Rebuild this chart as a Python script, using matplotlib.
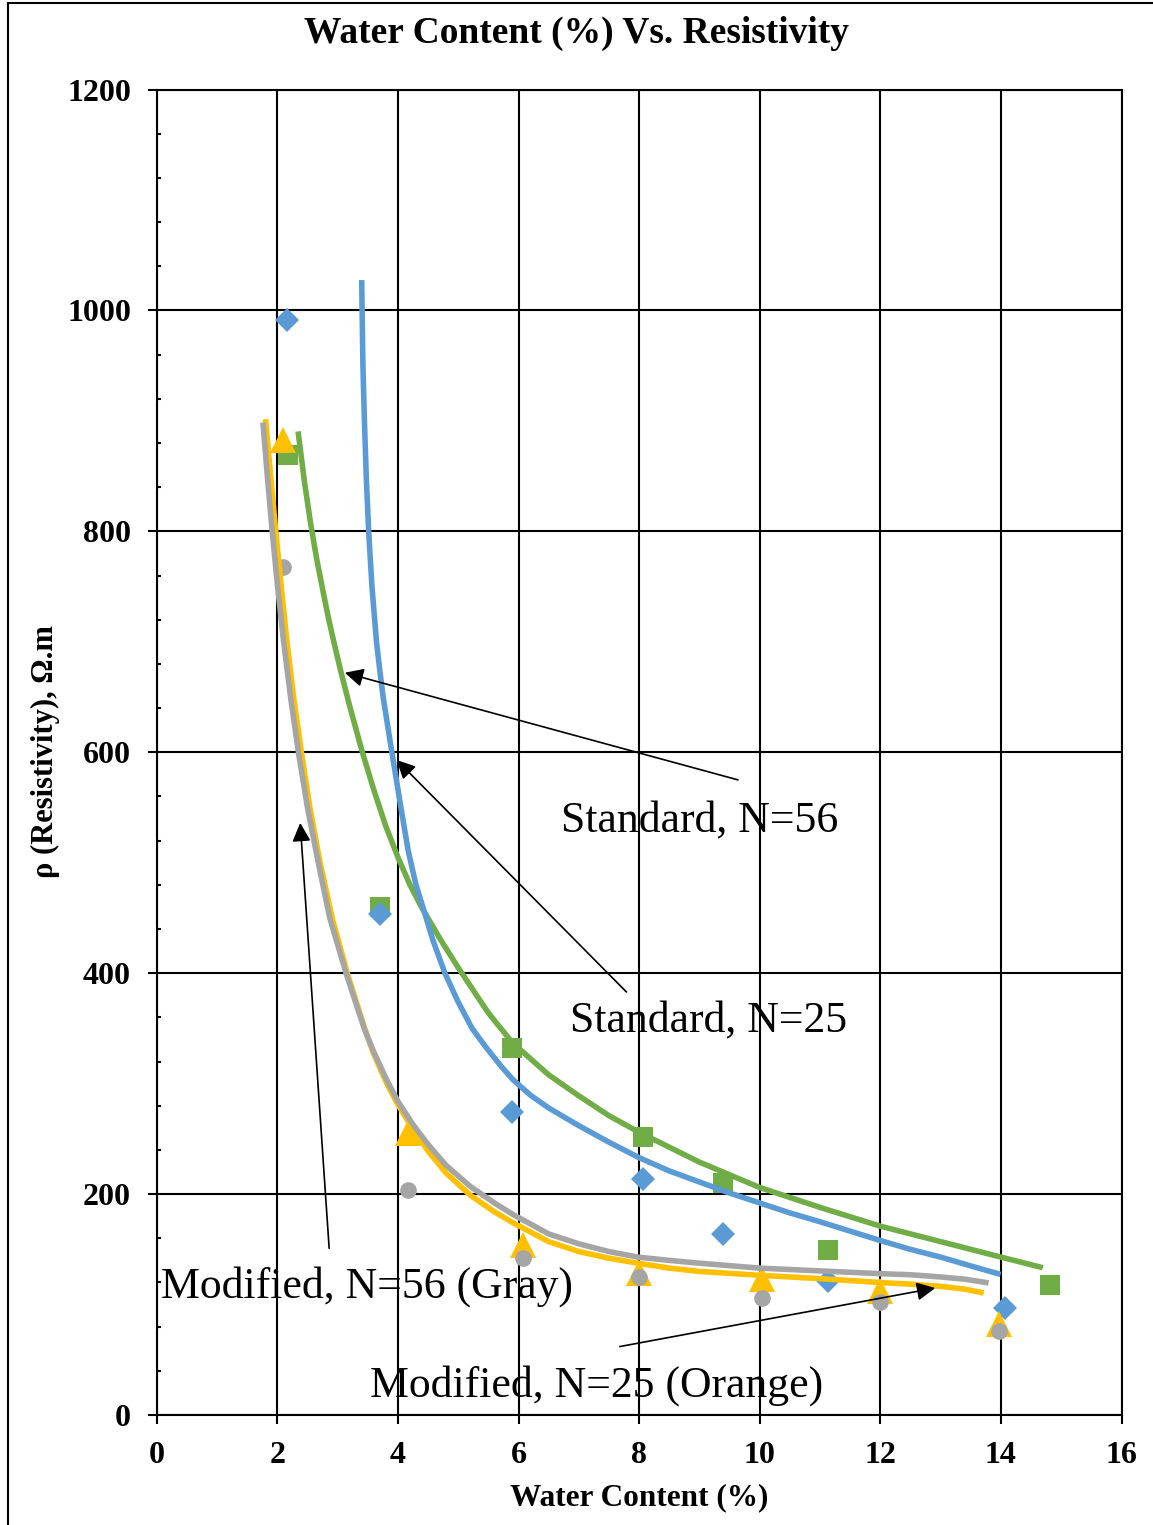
import matplotlib
matplotlib.use("Agg")
import matplotlib.pyplot as plt
from matplotlib.patches import Rectangle

plt.rcParams["font.family"] = ["Liberation Serif", "DejaVu Serif"]

# Measured points
wc_std = [2.16, 3.70, 5.89, 8.07, 9.39, 11.14, 14.07]
rho_std56 = [991, 454, 274, 214, 164, 121, 97]
wc_std25 = [2.17, 3.70, 5.89, 8.07, 9.39, 11.14, 14.81]
rho_std25 = [869, 460, 332, 252, 210, 149, 118]
wc_mod = [2.10, 4.17, 6.08, 7.99, 10.03, 11.99, 13.97]
rho_mod25 = [883, 255, 154, 129, 123, 112, 82]
rho_mod56 = [768, 204, 142, 125, 106, 102, 76]

# Trend lines (blue = Standard N=56 fit, green = Standard N=25 fit, etc.)
trend_std56_x = [3.40, 3.42, 3.445, 3.475, 3.515, 3.57, 3.645, 3.70, 3.755, 3.90, 4.05,
                 4.17, 4.30, 4.43, 4.58, 4.78, 4.99, 5.23, 5.46, 5.70, 5.91, 6.2, 6.5,
                 7.0, 7.5, 8.0, 8.5, 9.0, 9.5, 10.0, 10.5, 11.0, 11.5, 12.0, 12.5,
                 13.0, 13.5, 13.95]
trend_std56_y = [1025, 950, 900, 850, 800, 750, 700, 674, 650, 600, 550,
                 511, 480, 457, 430, 400, 375, 350, 333, 316.5, 303.5, 289.5, 278,
                 262, 247, 233, 221, 211, 201, 192, 183, 175, 166.5, 158, 150,
                 143, 135, 128]
trend_std25_x = [2.35, 2.45, 2.55, 2.65, 2.75, 2.85, 2.95, 3.05, 3.2, 3.4, 3.6, 3.8,
                 4.0, 4.2, 4.4, 4.7, 5.0, 5.5, 5.9, 6.5, 7.0, 7.5, 8.0, 9.0, 10.0,
                 11.0, 12.0, 13.0, 14.0, 14.65]
trend_std25_y = [888, 845, 808, 776, 748, 721, 697, 674, 642, 602, 566, 533,
                 505, 480, 459, 431, 405, 364, 337, 308, 289, 271, 256, 229, 206,
                 188, 171, 157, 143, 134]
trend_mod56_x = [1.765, 1.835, 1.915, 2.005, 2.105, 2.22, 2.35, 2.50, 2.68, 2.87, 3.14,
                 3.44, 3.59, 3.8, 4.0, 4.25, 4.5, 4.8, 5.2, 5.6, 5.91, 6.5, 7.0, 7.5,
                 7.98, 8.5, 9.0, 10.0, 11.0, 12.0, 12.5, 13.0, 13.4, 13.75]
trend_mod56_y = [896, 850, 800, 750, 700, 650, 600, 550, 500, 450, 400,
                 350, 330, 305, 284, 263, 245, 226, 207, 192, 181.5, 164, 155, 148,
                 143, 140, 137.5, 133, 130.5, 128, 127, 125, 123, 120]
trend_mod25_x = [1.81, 1.89, 1.975, 2.065, 2.16, 2.27, 2.40, 2.54, 2.71, 2.91, 3.16,
                 3.45, 3.59, 3.8, 4.0, 4.25, 4.5, 4.8, 5.2, 5.6, 5.91, 6.5, 7.0, 7.5,
                 7.98, 8.5, 9.0, 10.0, 11.0, 12.0, 12.5, 13.0, 13.4, 13.67]
trend_mod25_y = [899, 850, 800, 750, 700, 650, 600, 550, 500, 450, 400,
                 350, 328, 302, 281, 259, 239, 219, 199, 184, 174, 157, 148, 142,
                 137.5, 133, 130, 126.5, 123.5, 120, 118.5, 116.5, 114, 111]

blue = "#5B9BD5"
green = "#70AD47"
orange = "#FFC000"
gray = "#A5A5A5"

fig = plt.figure(figsize=(11.53, 15.25), dpi=100)
ax = fig.add_axes([0.1359, 0.0721, 0.8368, 0.8692])

ax.plot(wc_std25, rho_std25, "s", color=green, ms=14.5, mew=0, zorder=3)
ax.plot(wc_std, rho_std56, "D", color=blue, ms=12.5, mew=0, zorder=3.1)
ax.plot(wc_mod, rho_mod25, "^", color=orange, ms=19, mew=0, zorder=3.2)
ax.plot(wc_mod, rho_mod56, "o", color=gray, ms=12, mew=0, zorder=3.3)

lw = 4.0
ax.plot(trend_std25_x, trend_std25_y, color=green, lw=lw, zorder=4, solid_joinstyle="round")
ax.plot(trend_std56_x, trend_std56_y, color=blue, lw=lw, zorder=4.1, solid_joinstyle="round")
ax.plot(trend_mod25_x, trend_mod25_y, color=orange, lw=lw, zorder=4.2, solid_joinstyle="round")
ax.plot(trend_mod56_x, trend_mod56_y, color=gray, lw=lw, zorder=4.3, solid_joinstyle="round")

ax.set_xlim(0, 16)
ax.set_ylim(0, 1200)
ax.set_xticks(range(0, 17, 2))
ax.set_yticks(range(0, 1201, 200))
ax.set_yticks(range(0, 1201, 40), minor=True)
ax.grid(True, which="major", color="black", lw=1.5, zorder=1)
for s in ax.spines.values():
    s.set_linewidth(1.5)
ax.tick_params(which="major", direction="out", length=6.5, width=1.5, pad=12,
               labelsize=23)
ax.tick_params(which="minor", axis="y", direction="in", length=3, width=1.5)
for lab in ax.get_xticklabels() + ax.get_yticklabels():
    lab.set_fontweight("bold")

fig.text(0.5, 0.978, "Water Content (%) Vs. Resistivity", ha="center", va="center",
         fontsize=27, fontweight="bold")
fig.text(0.554, 0.018, "Water Content (%)", ha="center", va="center",
         fontsize=22.5, fontweight="bold")
fig.text(0.039, 0.507, "ρ (Resistivity), Ω.m", ha="center", va="center",
         rotation=90, fontsize=22, fontweight="bold")

# Curve labels and pointers
labels = ["Standard, N=56", "Standard, N=25", "Modified, N=56 (Gray)", "Modified, N=25 (Orange)"]
label_xy = [(9.01, 538), (9.15, 357), (3.49, 116), (7.29, 27)]
tails = [(9.64, 575), (7.79, 383), (2.86, 151), (7.68, 62)]
heads = [(3.12, 672), (3.98, 593), (2.38, 536), (12.91, 115)]
for text, (tx, ty) in zip(labels, label_xy):
    ax.text(tx, ty, text, ha="center", va="center", fontsize=31.5, zorder=6)
for (x0, y0), (x1, y1) in zip(tails, heads):
    ax.annotate("", xy=(x1, y1), xytext=(x0, y0),
                arrowprops=dict(arrowstyle="-|>", color="black", lw=1.2,
                                mutation_scale=28, shrinkA=0, shrinkB=0),
                zorder=6)

# outer frame
fig.patches.append(Rectangle((8 / 1153, -0.05), 1.2, 1.05 - 3 / 1525,
                             transform=fig.transFigure, fill=False,
                             edgecolor="black", lw=1.5))

fig.savefig("out.png", dpi=100)
